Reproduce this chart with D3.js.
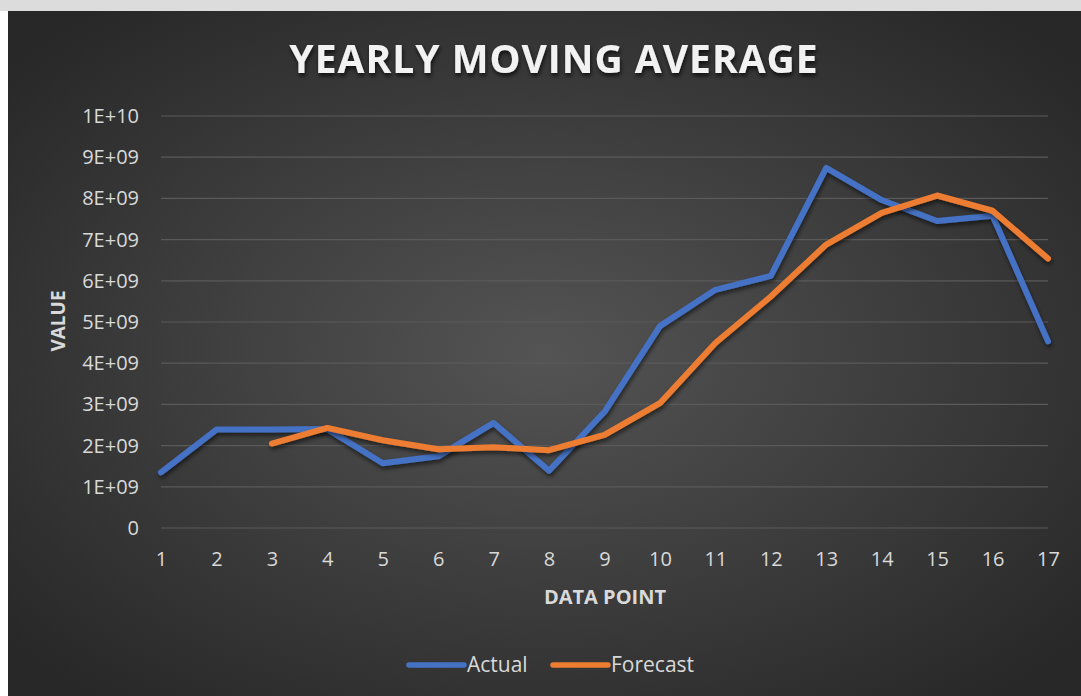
<!DOCTYPE html>
<html>
<head>
<meta charset="utf-8">
<script src="https://cdn.jsdelivr.net/npm/d3@7"></script>
<style>
    body { margin: 0; background: #ffffff; overflow: hidden; }
    svg { display: block; }
    .tick text { font-family: "Open Sans", "Noto Sans", sans-serif; fill: #d9d9d9; }
</style>
</head>
<body>
<div id="chart"></div>
<script>
// data
const dataPoints = [1, 2, 3, 4, 5, 6, 7, 8, 9, 10, 11, 12, 13, 14, 15, 16, 17];
const actual = [1.35e9, 2.39e9, 2.39e9, 2.4e9, 1.57e9, 1.74e9, 2.55e9, 1.39e9, 2.82e9,
    4.9e9, 5.78e9, 6.12e9, 8.74e9, 7.96e9, 7.45e9, 7.58e9, 4.53e9];
const forecast = [null, null, 2.05e9, 2.43e9, 2.13e9, 1.91e9, 1.96e9, 1.89e9, 2.26e9,
    3.03e9, 4.49e9, 5.62e9, 6.88e9, 7.65e9, 8.07e9, 7.7e9, 6.54e9];
const yTicks = [0, 1e9, 2e9, 3e9, 4e9, 5e9, 6e9, 7e9, 8e9, 9e9, 1e10];
const yTickLabels = ["0", "1E+09", "2E+09", "3E+09", "4E+09", "5E+09", "6E+09", "7E+09", "8E+09", "9E+09", "1E+10"];
const seriesNames = ["Actual", "Forecast"];
const seriesColors = ["#4472c4", "#ed7d31"];

const W = 1081, H = 696;
const margin = {top: 116, right: 33, bottom: 168, left: 161};
const width = W - margin.left - margin.right;
const height = H - margin.top - margin.bottom;

const svg = d3.select("#chart").append("svg")
    .attr("width", W)
    .attr("height", H);

const defs = svg.append("defs");

// background glow like the office theme
const grad = defs.append("radialGradient")
    .attr("id", "bg")
    .attr("cx", "50%").attr("cy", "50%").attr("r", "65%");
grad.append("stop").attr("offset", "0%").attr("stop-color", "#545454");
grad.append("stop").attr("offset", "100%").attr("stop-color", "#282828");

const shadow = defs.append("filter")
    .attr("id", "shadow")
    .attr("x", "-10%").attr("y", "-10%").attr("width", "120%").attr("height", "130%");
shadow.append("feDropShadow")
    .attr("dx", 1).attr("dy", 3).attr("stdDeviation", 2)
    .attr("flood-color", "#000").attr("flood-opacity", 0.55);

const titleShadow = defs.append("filter").attr("id", "tshadow");
titleShadow.append("feDropShadow")
    .attr("dx", 1).attr("dy", 3).attr("stdDeviation", 2)
    .attr("flood-color", "#000").attr("flood-opacity", 0.7);

// slide remains at top, then the chart area
svg.append("rect").attr("x", 0).attr("y", 0).attr("width", W).attr("height", 11).attr("fill", "#dcdcdc");
svg.append("rect").attr("x", 8).attr("y", 11).attr("width", W - 8).attr("height", H - 11).attr("fill", "url(#bg)");

const g = svg.append("g")
    .attr("transform", `translate(${margin.left},${margin.top})`);

const x = d3.scaleLinear()
    .domain([1, 17])
    .range([0, width]);

const y = d3.scaleLinear()
    .domain([0, 1e10])
    .range([height, 0]);

// gridlines
g.append("g")
    .selectAll("line")
    .data(yTicks)
    .join("line")
    .attr("x1", 0)
    .attr("x2", width)
    .attr("y1", d => y(d))
    .attr("y2", d => y(d))
    .attr("stroke", "#5a5a5a")
    .attr("stroke-width", 1.2);

// y axis labels
const yAxis = g.append("g")
    .call(d3.axisLeft(y).tickValues(yTicks).tickFormat((d, i) => yTickLabels[i]).tickSize(0).tickPadding(22));
yAxis.select(".domain").remove();
yAxis.selectAll("text").style("font-size", "20px");

// x axis labels
const xAxis = g.append("g")
    .attr("transform", `translate(0,${height})`)
    .call(d3.axisBottom(x).tickValues(dataPoints).tickFormat(d3.format("d")).tickSize(0).tickPadding(24));
xAxis.select(".domain").remove();
xAxis.selectAll("text").style("font-size", "20px");

// lines
const line = d3.line()
    .defined(d => d[1] !== null)
    .x(d => x(d[0]))
    .y(d => y(d[1]));

[actual, forecast].forEach((vals, i) => {
    g.append("path")
        .datum(dataPoints.map((p, j) => [p, vals[j]]))
        .attr("fill", "none")
        .attr("stroke", seriesColors[i])
        .attr("stroke-width", 6)
        .attr("stroke-linejoin", "round")
        .attr("stroke-linecap", "round")
        .attr("filter", "url(#shadow)")
        .attr("d", line);
});

// title
svg.append("text")
    .attr("x", 554)
    .attr("y", 73)
    .attr("text-anchor", "middle")
    .attr("filter", "url(#tshadow)")
    .style("font-family", "'Open Sans', sans-serif")
    .style("font-size", "39px")
    .style("font-weight", "bold")
    .style("letter-spacing", "1px")
    .style("fill", "#f2f2f2")
    .text("YEARLY MOVING AVERAGE");

// axis titles
svg.append("text")
    .attr("transform", "translate(65,321) rotate(-90)")
    .attr("text-anchor", "middle")
    .style("font-family", "'Open Sans', sans-serif")
    .style("font-size", "19px")
    .style("font-weight", "bold")
    .style("fill", "#d9d9d9")
    .text("VALUE");

svg.append("text")
    .attr("x", 605)
    .attr("y", 604)
    .attr("text-anchor", "middle")
    .style("font-family", "'Open Sans', sans-serif")
    .style("font-size", "20px")
    .style("font-weight", "bold")
    .style("fill", "#d9d9d9")
    .text("DATA POINT");

// legend
const legendX = [409, 553];
const legend = svg.append("g");
seriesNames.forEach((name, i) => {
    legend.append("line")
        .attr("x1", legendX[i])
        .attr("x2", legendX[i] + 55)
        .attr("y1", 665)
        .attr("y2", 665)
        .attr("stroke", seriesColors[i])
        .attr("stroke-width", 5.5)
        .attr("stroke-linecap", "round");
    legend.append("text")
        .attr("x", legendX[i] + 58)
        .attr("y", 672)
        .style("font-family", "'Open Sans', sans-serif")
        .style("font-size", "21px")
        .style("fill", "#d9d9d9")
        .text(name);
});
</script>
</body>
</html>
